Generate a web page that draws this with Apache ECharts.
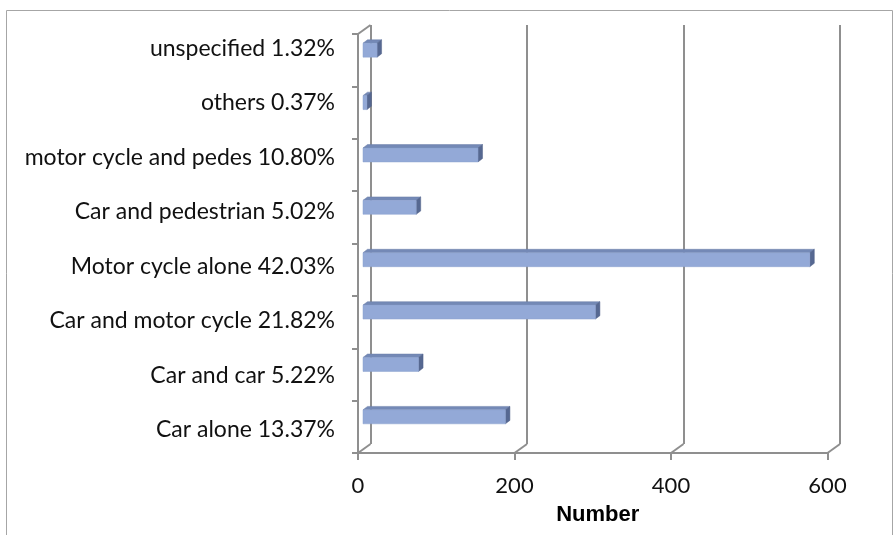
<!DOCTYPE html>
<html>
<head>
<meta charset="utf-8">
<script src="https://cdn.jsdelivr.net/npm/echarts@6/dist/echarts.min.js"></script>
<style>
  html, body { margin: 0; padding: 0; background: #ffffff; }
  #chart { width: 894px; height: 535px; }
</style>
</head>
<body>
<div id="chart"></div>
<script>
// Road traffic accident types, number of cases (bottom to top)
const categories = [
  'Car alone 13.37%',
  'Car and car 5.22%',
  'Car and motor cycle 21.82%',
  'Motor cycle alone 42.03%',
  'Car and pedestrian 5.02%',
  'motor cycle and pedes 10.80%',
  'others 0.37%',
  'unspecified 1.32%'
];
const counts = [182, 71, 297, 571, 68, 147, 5, 18];
const xTicks = [0, 200, 400, 600];
const xAxisName = 'Number';

const GRID_GRAY = '#8f8f8f';
const DEPTH_X = 12.5, DEPTH_Y = 9;      // wall depth (back plane offset)
const BAR_DX = 4.5, BAR_DY = 3.4;       // bar depth
const BAR_SHIFT_X = 5, BAR_SHIFT_Y = -10;
const BAR_H = 14;

const chart = echarts.init(document.getElementById('chart'), null, { renderer: 'canvas' });

function renderBar(params, api) {
  const idx = api.value(1);
  const v = api.value(0);
  const p0 = api.coord([0, idx]);
  const p1 = api.coord([v, idx]);
  const x0 = p0[0] + BAR_SHIFT_X;
  const x1 = p1[0] + BAR_SHIFT_X;
  const cy = p0[1] + BAR_SHIFT_Y;
  const top = cy - BAR_H / 2;
  const bot = cy + BAR_H / 2;
  return {
    type: 'group',
    children: [
      {
        type: 'polygon',
        shape: { points: [[x0, top], [x1, top], [x1 + BAR_DX, top - BAR_DY], [x0 + BAR_DX, top - BAR_DY]] },
        style: { fill: '#7489b6', stroke: '#6a7ea9', lineWidth: 0.5 }
      },
      {
        type: 'polygon',
        shape: { points: [[x1, top], [x1 + BAR_DX, top - BAR_DY], [x1 + BAR_DX, bot - BAR_DY], [x1, bot]] },
        style: { fill: '#566891', stroke: '#52638a', lineWidth: 0.5 }
      },
      {
        type: 'rect',
        shape: { x: x0, y: top, width: x1 - x0, height: BAR_H },
        style: { fill: '#93a9d7', stroke: '#8aa0cf', lineWidth: 0.5 }
      }
    ]
  };
}

function renderFloor(params, api) {
  const v = api.value(0);
  const p = api.coord([v, 0]);
  const band = api.size([0, 1])[1];
  const yb = p[1] + band / 2;
  const children = [{
    type: 'line',
    shape: { x1: p[0], y1: yb, x2: p[0] + DEPTH_X, y2: yb - DEPTH_Y },
    style: { stroke: GRID_GRAY, lineWidth: 2 }
  }];
  if (v === 0) {
    const pt = api.coord([0, categories.length - 1]);
    const yt = pt[1] - band / 2;
    children.push({
      type: 'line',
      shape: { x1: p[0], y1: yt, x2: p[0] + DEPTH_X, y2: yt - DEPTH_Y },
      style: { stroke: GRID_GRAY, lineWidth: 2 }
    });
  }
  return { type: 'group', children: children };
}

const labelFont = 'Lato, "Open Sans", sans-serif';

chart.setOption({
  animation: false,
  backgroundColor: '#ffffff',
  graphic: [{
    type: 'rect',
    shape: { x: 6.5, y: 10.5, width: 886, height: 540 },
    style: { fill: 'none', stroke: '#a6a6a6', lineWidth: 1 },
    silent: true,
    z: -10
  }],
  grid: [
    { left: 358, right: 66.5, top: 34, bottom: 82 },           // front plane
    { left: 370.5, right: 54, top: 25, bottom: 91 },           // back wall
    { left: 358, right: 66.5, top: 21, bottom: 78 }            // category labels
  ],
  xAxis: [
    {
      gridIndex: 0, type: 'value', min: 0, max: 600, interval: 200,
      axisLine: { show: true, lineStyle: { color: GRID_GRAY, width: 2 } },
      axisTick: { show: true, length: 7, lineStyle: { color: GRID_GRAY, width: 2 } },
      axisLabel: { color: '#111', fontFamily: labelFont, fontSize: 22, margin: 22,
        formatter: function (v) { return xTicks.indexOf(v) >= 0 ? String(v) : ''; } },
      splitLine: { show: false },
      name: xAxisName, nameLocation: 'middle', nameGap: 51,
      nameTextStyle: { color: '#000', fontFamily: '"Liberation Sans", Arial, sans-serif', fontWeight: 'bold', fontSize: 22, padding: [0, 0, 0, 10] }
    },
    {
      gridIndex: 1, type: 'value', min: 0, max: 600, interval: 200,
      axisLine: { show: false }, axisTick: { show: false }, axisLabel: { show: false },
      splitLine: { show: true, lineStyle: { color: GRID_GRAY, width: 2 } }
    },
    {
      gridIndex: 2, type: 'value', min: 0, max: 600, show: false
    }
  ],
  yAxis: [
    {
      gridIndex: 0, type: 'category', data: categories,
      axisLine: { show: true, lineStyle: { color: GRID_GRAY, width: 2 } },
      axisTick: { show: true, length: 6, lineStyle: { color: GRID_GRAY, width: 2 } },
      axisLabel: { show: false }
    },
    {
      gridIndex: 1, type: 'category', data: categories, show: false
    },
    {
      gridIndex: 2, type: 'category', data: categories,
      axisLine: { show: false }, axisTick: { show: false },
      axisLabel: { color: '#111', fontFamily: labelFont, fontSize: 23, margin: 23 }
    }
  ],
  series: [
    {
      type: 'custom', name: 'floor', xAxisIndex: 0, yAxisIndex: 0,
      renderItem: renderFloor,
      data: xTicks.map(function (v) { return [v]; }),
      silent: true, z: 1
    },
    {
      type: 'custom', name: 'Number', xAxisIndex: 0, yAxisIndex: 0,
      renderItem: renderBar,
      encode: { x: 0, y: 1 },
      data: counts.map(function (c, i) { return [c, i]; }),
      z: 3
    }
  ]
});
</script>
</body>
</html>
